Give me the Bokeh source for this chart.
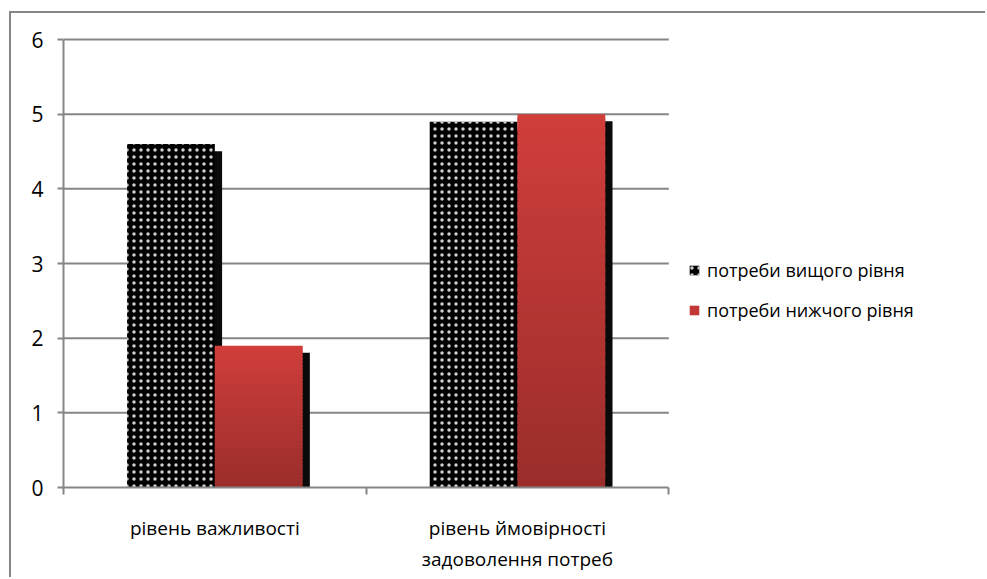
from bokeh.plotting import figure
from bokeh.models import FixedTicker, Range1d, Legend, LegendItem
from bokeh.embed import file_html
from bokeh.resources import INLINE

categories = ["рівень важливості", "рівень ймовірності\nзадоволення потреб"]
series_names = ["потреби вищого рівня", "потреби нижчого рівня"]
higher = [4.6, 4.9]
lower = [1.9, 5.0]
y_ticks = [0, 1, 2, 3, 4, 5, 6]

GRAY = "#868686"
FONT = "Open Sans"

ncat = len(categories)
x_end = ncat * 920 / 604  # frame extends to the right edge to host the legend
y_max = y_ticks[-1]
y_end = y_max * 451 / 448  # small headroom so the top grid line is not clipped

p = figure(width=976, height=566, output_backend="svg", toolbar_location=None,
           x_range=Range1d(0, x_end), y_range=Range1d(0, y_end),
           min_border_left=52, min_border_right=2, min_border_top=23, min_border_bottom=92)
p.styles = {"border-left": "2px solid " + GRAY, "border-top": "2px solid " + GRAY,
            "margin-left": "9px", "margin-top": "11px"}
p.outline_line_color = None
p.background_fill_color = "white"
p.border_fill_color = "white"

# horizontal grid lines limited to the category area
p.xgrid.grid_line_color = None
p.ygrid.grid_line_color = None
p.segment(x0=0, x1=ncat, y0=y_ticks[1:], y1=y_ticks[1:], line_color=GRAY, line_width=2)

centers = [i + 0.5 for i in range(ncat)]
w = 0.29
off = w / 2
sx, sy = 0.024, 0.095

xh = [c - off for c in centers]
xl = [c + off for c in centers]

# shadows + black dotted bars
p.vbar(x=[x + sx for x in xh], top=[v - sy for v in higher], bottom=0, width=w,
       fill_color="#0a0a0a", line_color=None)
rb = p.vbar(x=xh, top=higher, bottom=0, width=w, fill_color="black", line_color=None,
            hatch_pattern="dot", hatch_color="#d0d0d0", hatch_scale=7, hatch_weight=1.5)

# shadows + red gradient bars
p.vbar(x=[x + sx for x in xl], top=[v - sy for v in lower], bottom=0, width=w,
       fill_color="#0a0a0a", line_color=None)

def lerp(c1, c2, t):
    a = [int(c1[i:i + 2], 16) for i in (1, 3, 5)]
    b = [int(c2[i:i + 2], 16) for i in (1, 3, 5)]
    return "#%02x%02x%02x" % tuple(round(a[k] + (b[k] - a[k]) * t) for k in range(3))

N = 40
bot_c, top_c = "#9a2d2b", "#d03e3b"
for k in range(N):
    t = (k + 0.5) / N
    col = lerp(bot_c, top_c, t)
    p.vbar(x=xl, bottom=[v * k / N for v in lower],
           top=[min(v, v * (k + 1.6) / N) for v in lower],
           width=w, fill_color=col, line_color=None)

rl = p.vbar(x=xl, top=0, bottom=0, width=0, fill_color="#c13836", line_color=None)

# axes
p.xaxis.bounds = (0, ncat)
p.xaxis.ticker = FixedTicker(ticks=centers, minor_ticks=list(range(ncat + 1)))
p.xaxis.major_label_overrides = {c: lab for c, lab in zip(centers, categories)}
p.xaxis.major_tick_line_color = None
p.xaxis.minor_tick_line_color = GRAY
p.xaxis.minor_tick_line_width = 2
p.xaxis.minor_tick_out = 7
p.xaxis.minor_tick_in = 0
p.xaxis.axis_line_color = GRAY
p.xaxis.axis_line_width = 2
p.xaxis.major_label_standoff = 20
p.xaxis.major_label_text_font = FONT
p.xaxis.major_label_text_font_size = "19px"
p.xaxis.major_label_text_color = "black"

p.yaxis.bounds = (0, y_max)
p.yaxis.ticker = FixedTicker(ticks=y_ticks)
p.yaxis.minor_tick_line_color = None
p.yaxis.major_tick_line_color = GRAY
p.yaxis.major_tick_line_width = 2
p.yaxis.major_tick_out = 6
p.yaxis.major_tick_in = 0
p.yaxis.axis_line_color = GRAY
p.yaxis.axis_line_width = 2
p.yaxis.major_label_standoff = 14
p.yaxis.major_label_text_font = FONT
p.yaxis.major_label_text_font_size = "21px"
p.yaxis.major_label_text_color = "black"

legend = Legend(items=[LegendItem(label=series_names[0], renderers=[rb]),
                       LegendItem(label=series_names[1], renderers=[rl])],
                location=(625, 165))
legend.margin = 0
legend.padding = 0
legend.spacing = 16
legend.label_height = 21
legend.glyph_height = 12
legend.glyph_width = 12
legend.label_standoff = 7
legend.label_text_font = FONT
legend.label_text_font_size = "18px"
legend.label_text_color = "black"
legend.border_line_color = None
legend.background_fill_alpha = 0
p.add_layout(legend, "center")

open("out.html", "w").write(file_html(p, INLINE))
